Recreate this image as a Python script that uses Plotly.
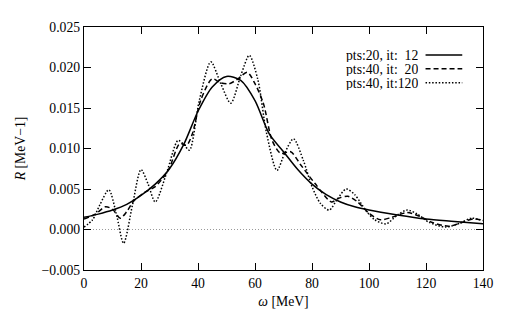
import plotly.graph_objects as go

# ----------------------------
# Data
# ----------------------------
# pts:20, it:12 (solid)
omega_a = [0, 5, 10, 15, 20, 25, 30, 35, 40, 45, 50, 55, 60, 65, 70, 75,
           80, 85, 90, 95, 100, 110, 120, 130, 140]
resp_a = [0.0015, 0.0019, 0.0024, 0.0031, 0.0042, 0.0056, 0.0075, 0.0105,
          0.0146, 0.0176, 0.0189, 0.0184, 0.0159, 0.0118, 0.0096, 0.0074,
          0.0056, 0.0043, 0.0034, 0.0028, 0.0024, 0.0018, 0.0013, 0.0010,
          0.0007]

# pts:40, it:20 (dashed)
omega_b = [0, 4, 7.5, 10, 12.7, 15, 17.4, 21.4, 25, 28, 30, 33.6, 36, 38,
           41, 45, 48, 51, 54, 57.3, 60, 63, 66, 69, 72.5, 76, 81, 86.8,
           89, 92.6, 96, 100, 104, 108, 113.4, 118, 122, 128, 132, 136.6, 140]
resp_b = [0.0013, 0.0019, 0.0028, 0.0025, 0.0014, 0.0022, 0.0035, 0.0046,
          0.0053, 0.0065, 0.0076, 0.0106, 0.0104, 0.0118, 0.0160, 0.0186,
          0.0181, 0.0180, 0.0186, 0.0194, 0.0180, 0.0155, 0.0110, 0.0094,
          0.0096, 0.0080, 0.0057, 0.0034, 0.0038, 0.0041, 0.0034, 0.0020,
          0.0012, 0.0015, 0.0021, 0.0016, 0.0009, 0.0004, 0.0008, 0.0013,
          0.0011]

# pts:40, it:120 (dotted)
omega_c = [0, 3, 5.5, 8.7, 11.3, 13.9, 17, 20, 22.5, 25, 29, 33, 35, 37,
           40.5, 44.5, 48, 51.5, 55, 58, 61, 64, 67.7, 70.5, 73.5, 77, 80,
           83, 86, 89, 92, 95, 99, 102, 106, 110, 113.4, 117, 121, 127, 132,
           136, 140]
resp_c = [0.0003, 0.0012, 0.0030, 0.0049, 0.0020, -0.0017, 0.0030, 0.0074,
          0.0056, 0.0034, 0.0070, 0.0110, 0.0105, 0.0098, 0.0160, 0.0207,
          0.0180, 0.0156, 0.0190, 0.0215, 0.0185, 0.0120, 0.0073, 0.0095,
          0.0112, 0.0085, 0.0053, 0.0032, 0.0024, 0.0038, 0.0050, 0.0043,
          0.0023, 0.0012, 0.0007, 0.0018, 0.0024, 0.0019, 0.0009, 0.0003,
          0.0008, 0.0014, 0.0011]

legend_labels = ["pts:20, it:\u00a0\u00a012", "pts:40, it:\u00a0\u00a020", "pts:40, it:120"]
x_ticks = [0, 20, 40, 60, 80, 100, 120, 140]
y_ticks = [-0.005, 0.0, 0.005, 0.010, 0.015, 0.020, 0.025]

FONT = "Liberation Serif"
FS = 13.7
dashes = ["solid", "5px,3px", "1.5px,1.8px"]

# ----------------------------
# Figure
# ----------------------------
fig = go.Figure()
for xs, ys, d, name in zip([omega_a, omega_b, omega_c],
                           [resp_a, resp_b, resp_c], dashes, legend_labels):
    fig.add_trace(go.Scatter(
        x=xs, y=ys, mode="lines", name=name,
        line=dict(color="black", width=1.5, dash=d, shape="spline", smoothing=0.8),
        showlegend=False,
    ))

# dotted zero line
fig.add_hline(y=0, line=dict(color="#999999", width=1, dash="1px,2px"), layer="below")

# legend drawn by hand (text on the left, line sample on the right)
row_y = [0.885, 0.828, 0.771]
for label, d, yy in zip(legend_labels, dashes, row_y):
    fig.add_annotation(x=0.839, y=yy, xref="paper", yref="paper", text=label,
                       showarrow=False, xanchor="right", yanchor="middle",
                       height=14, borderpad=0,
                       font=dict(family=FONT, size=FS, color="black"))
    fig.add_shape(type="line", xref="paper", yref="paper",
                  x0=0.856, x1=0.948, y0=yy, y1=yy,
                  line=dict(color="black", width=1.5, dash=d))

axis_common = dict(
    showgrid=False, zeroline=False, showline=True, linecolor="black",
    linewidth=1.3, mirror="allticks", ticks="inside", ticklen=7,
    tickwidth=1.3, tickcolor="black",
    tickfont=dict(family=FONT, size=FS, color="black"),
)
fig.update_xaxes(range=[0, 140], tickvals=x_ticks,
                 title=dict(text="<i>ω</i> [MeV]", standoff=6,
                            font=dict(family=FONT, size=FS, color="black")),
                 **axis_common)
fig.update_yaxes(range=[-0.005, 0.025], tickvals=y_ticks, tickformat=".3f",
                 title=dict(text="<i>R</i> [MeV−1]", standoff=12,
                            font=dict(family=FONT, size=FS, color="black")),
                 **axis_common)

# page body adds an 8px offset, so the figure is drawn 8px smaller
fig.update_layout(
    width=510, height=327,
    margin=dict(l=72, r=35, t=18, b=65),
    paper_bgcolor="white", plot_bgcolor="white",
    font=dict(family=FONT, size=FS, color="black"),
)

fig.write_html("out.html")
